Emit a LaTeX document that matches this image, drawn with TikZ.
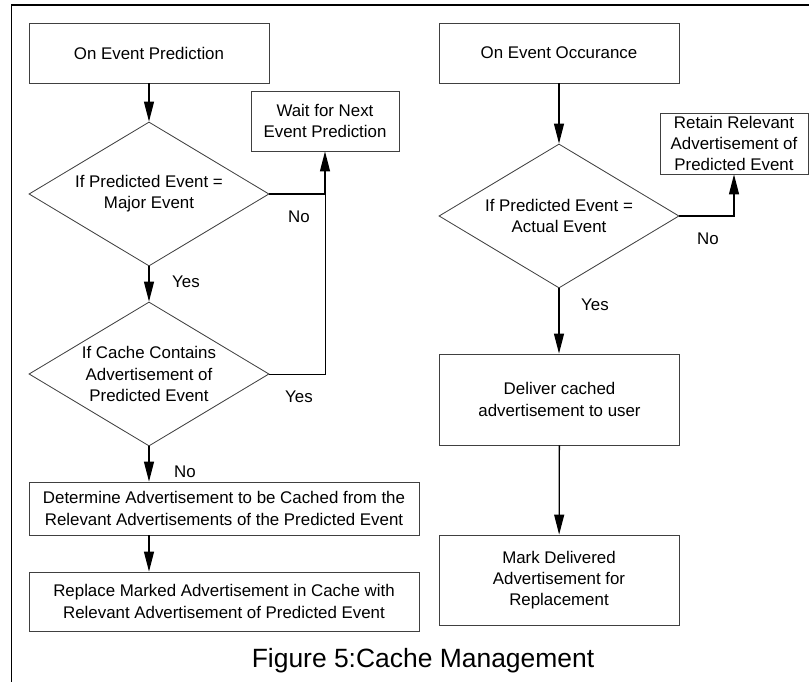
\documentclass[tikz,border=0pt]{standalone}
\usepackage{fontspec}
\setmainfont{Liberation Sans}
\usetikzlibrary{shapes.geometric,arrows.meta}

\tikzset{
  box/.style={draw=black!75, line width=0.6pt, align=center, inner sep=2pt},
  decision/.style={draw=black!75, line width=0.6pt, diamond, align=center,
    inner sep=0pt, aspect=1.667, minimum width=6cm, minimum height=3.6cm},
  flow/.style={line width=0.9pt, -{Triangle[length=5mm,width=2.5mm]}},
  link/.style={line width=0.6pt},
  lbl/.style={inner sep=0pt}
}

\begin{document}
\begin{tikzpicture}[x=0.025cm, y=-0.025cm, font=\fontsize{12}{15}\selectfont]
\useasboundingbox (0,0) rectangle (809,682);
\draw[line width=1pt] (11.5,5) rectangle (815,690);

% left column
\node[box, minimum width=6cm, minimum height=1.5cm] (pred) at (149,53) {On Event Prediction};
\node[decision] (major) at (149,194) {If Predicted Event =\\Major Event};
\node[box, minimum width=3.7cm, minimum height=1.5cm] (wait) at (325,121) {Wait for Next\\Event Prediction};
\node[decision] (cache) at (149,374) {If Cache Contains\\Advertisement of\\Predicted Event};
\node[box, minimum width=9.75cm, minimum height=1.325cm] (determine) at (224,508.5)
  {Determine Advertisement to be Cached from the\\Relevant Advertisements of the Predicted Event};
\node[box, minimum width=9.75cm, minimum height=1.475cm] (replace) at (224,601.5)
  {Replace Marked Advertisement in Cache with\\Relevant Advertisement of Predicted Event};
\coordinate (join) at (wait.south |- major.east);

% right column
\node[box, minimum width=6cm, minimum height=1.5cm] (occur) at (559,53) {On Event Occurance};
\node[decision] (actual) at (559,216) {If Predicted Event =\\Actual Event};
\node[box, minimum width=3.7cm, minimum height=1.525cm] (retain) at (734,143.5)
  {Retain Relevant\\Advertisement of\\Predicted Event};
\node[box, minimum width=6cm, minimum height=2.275cm] (deliver) at (559.5,399.5)
  {Deliver cached\\advertisement to user};
\node[box, minimum width=6cm, minimum height=2.25cm] (mark) at (559,580)
  {Mark Delivered\\Advertisement for\\Replacement};

% connectors
\draw[flow] (pred) -- (major);
\draw[flow] (major.east) -| (wait.south);
\draw[flow] (major) -- (cache);
\draw[link] (cache.east) -| (join);
\draw[flow] (cache.south) -- (cache.south |- determine.north);
\draw[flow] (cache.south |- determine.south) -- (cache.south |- replace.north);
\draw[flow] (occur) -- (actual);
\draw[flow] (actual.east) -| (retain.south);
\draw[flow] (actual) -- (actual.south |- deliver.north);
\draw[flow] (deliver) -- (mark);

% labels
\node[lbl] (no1) at (299,217) {No};
\node[lbl] (yes1) at (186,282) {Yes};
\node[lbl] (yes2) at (299,397) {Yes};
\node[lbl] (no2) at (185,472) {No};
\node[lbl] (no3) at (708,239) {No};
\node[lbl] (yes3) at (595,305) {Yes};

\node[font=\fontsize{18.8}{22}\selectfont] (caption) at (423,661) {Figure 5:Cache Management};
\end{tikzpicture}
\end{document}
